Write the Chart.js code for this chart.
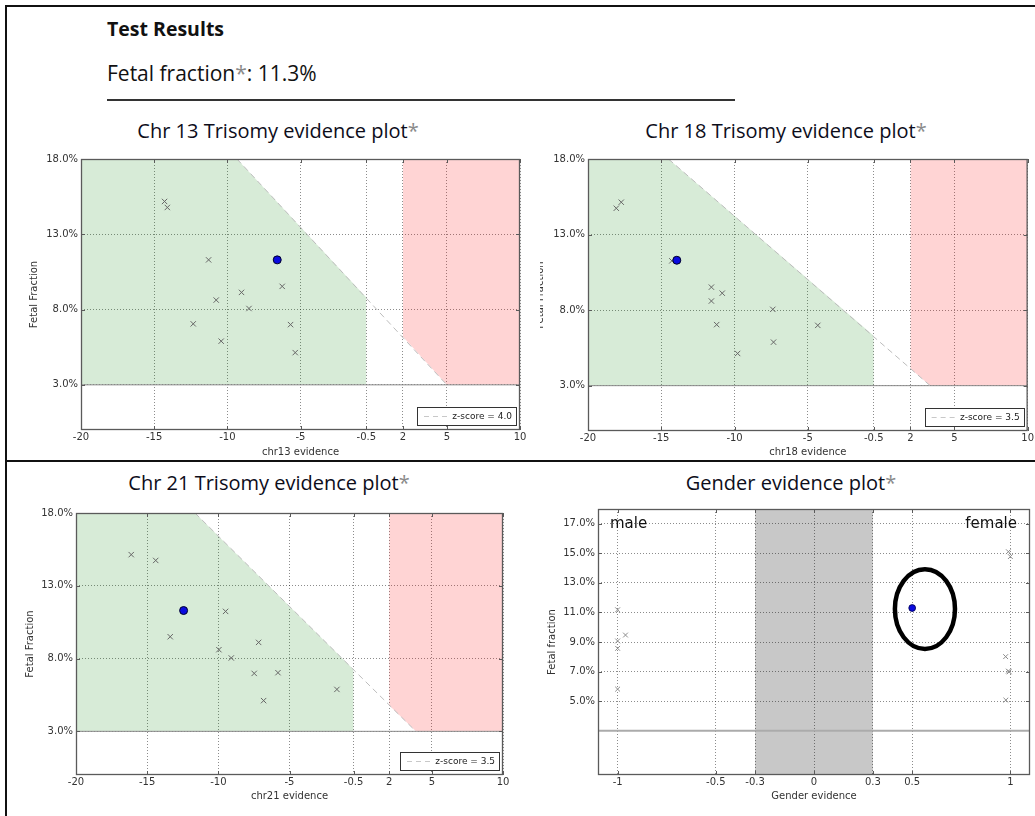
<!DOCTYPE html>
<html>
<head>
<meta charset="utf-8">
<script src="https://cdn.jsdelivr.net/npm/chart.js@4.4.1/dist/chart.umd.min.js"></script>
<style>
  html, body { margin: 0; padding: 0; background: #fff; }
  body { width: 1035px; height: 816px; position: relative; overflow: hidden; font-family: "Open Sans", Lato, sans-serif; }
  .rule { position: absolute; background: #111; }
  .txt { position: absolute; white-space: nowrap; color: #111; }
  .ast { color: #8a8a8a; }
  .title { position: absolute; white-space: nowrap; font-size: 20px; color: #0d0d1a; transform: translateX(-50%); line-height: 1; }
  .wrap { position: absolute; overflow: hidden; }
  .wrap canvas { position: absolute; top: 0; }
</style>
</head>
<body>
<div class="rule" style="left:5px;top:5px;width:1030px;height:2px"></div>
<div class="rule" style="left:5px;top:5px;width:2px;height:811px"></div>
<div class="rule" style="left:5px;top:460px;width:1030px;height:2px"></div>
<div class="rule" style="left:107px;top:99px;width:628px;height:2px;background:#333"></div>

<div class="txt" style="left:107px;top:15px;font-size:19.5px;font-weight:bold;">Test Results</div>
<div class="txt" style="left:107px;top:59px;font-size:21px;">Fetal fraction<span class="ast">*</span>: 11.3%</div>

<div class="title" style="left:278px;top:121px">Chr 13 Trisomy evidence plot<span class="ast">*</span></div>
<div class="title" style="left:786px;top:121px">Chr 18 Trisomy evidence plot<span class="ast">*</span></div>
<div class="title" style="left:269px;top:473px">Chr 21 Trisomy evidence plot<span class="ast">*</span></div>
<div class="title" style="left:791px;top:473px">Gender evidence plot<span class="ast">*</span></div>

<div class="wrap" style="left:20px;top:150px;width:515px;height:310px"><canvas id="c13" width="515" height="310" style="left:0"></canvas></div>
<div class="wrap" style="left:540px;top:150px;width:495px;height:310px"><canvas id="c18" width="505" height="310" style="left:-10px"></canvas></div>
<div class="wrap" style="left:20px;top:500px;width:515px;height:305px"><canvas id="c21" width="515" height="305" style="left:0"></canvas></div>
<div class="wrap" style="left:540px;top:500px;width:495px;height:305px"><canvas id="cg" width="505" height="305" style="left:-10px"></canvas></div>

<script>
// ---------- data ----------
const evidenceTicks = [-20, -15, -10, -5, -0.5, 2, 5, 10];
const fractionTicks = [3, 8, 13, 18];
const genderTicks = [-1, -0.5, -0.3, 0, 0.3, 0.5, 1];
const genderFractionTicks = [5, 7, 9, 11, 13, 15, 17];

// chr13 (z-score = 4.0)
const chr13RefX = [-14.29, -14.10, -11.28, -10.76, -9.03, -8.52, -12.33, -10.42, -6.25, -5.68, -5.36];
const chr13RefY = [15.18, 14.78, 11.30, 8.63, 9.14, 8.07, 7.05, 5.90, 9.54, 7.00, 5.14];
const chr13Sample = [{x: -6.59, y: 11.3}];
const chr13ZLine = [{x: -9.34, y: 18}, {x: 5, y: 3}];
const chr13Green = [{x: -20, y: 18}, {x: -9.34, y: 18}, {x: -0.5, y: 8.8}];
const chr13Red = [{x: 2, y: 6.2}, {x: 5, y: 3}, {x: 10, y: 3}];

// chr18 (z-score = 3.5)
const chr18RefX = [-18.07, -17.73, -14.28, -11.58, -10.84, -11.58, -11.22, -9.79, -7.39, -7.34, -4.32];
const chr18RefY = [14.74, 15.14, 11.26, 9.52, 9.12, 8.60, 7.04, 5.13, 8.05, 5.88, 6.99];
const chr18Sample = [{x: -13.94, y: 11.3}];
const chr18ZLine = [{x: -14.51, y: 18}, {x: 3.35, y: 3}];
const chr18Green = [{x: -20, y: 18}, {x: -14.51, y: 18}, {x: -0.5, y: 6.3}];
const chr18Red = [{x: 2, y: 4.13}, {x: 3.35, y: 3}, {x: 10, y: 3}];

// chr21 (z-score = 3.5)
const chr21RefX = [-16.12, -14.40, -9.49, -13.38, -7.17, -9.96, -9.09, -7.48, -5.81, -6.82, -1.67];
const chr21RefY = [15.14, 14.74, 11.24, 9.50, 9.11, 8.61, 8.04, 6.98, 7.03, 5.11, 5.88];
const chr21Sample = [{x: -12.44, y: 11.3}];
const chr21ZLine = [{x: -11.64, y: 18}, {x: 3.88, y: 3}];
const chr21Green = [{x: -20, y: 18}, {x: -11.64, y: 18}, {x: -0.5, y: 7.25}];
const chr21Red = [{x: 2, y: 4.8}, {x: 3.88, y: 3}, {x: 10, y: 3}];

// gender
const maleX = [-1, -1, -1, -0.96, -1];
const maleY = [11.18, 9.07, 8.57, 9.47, 5.81];
const femaleX = [0.99, 1.0, 0.976, 0.994, 0.99, 0.977];
const femaleY = [15.11, 14.78, 8.01, 6.98, 7.03, 5.07];
const genderSample = [{x: 0.5, y: 11.3}];
const genderBand = [{x: -0.3, y: 18}, {x: 0.3, y: 18}];
const minFractionLine = [{x: -20, y: 3}, {x: 10, y: 3}];
const genderMinLine = [{x: -1.1, y: 3}, {x: 1.1, y: 3}];
const annotationEllipse = {x: 0.565, y: 11.23, rx: 0.153, ry: 2.7};

// ---------- helpers ----------
const zip = (xs, ys) => xs.map((x, i) => ({x, y: ys[i]}));
const tickFont = {family: 'DejaVu Sans', size: 10};
const GRID = {color: 'rgba(0,0,0,0.45)', lineWidth: 1, drawTicks: false};

function frame(chart) {
  const {ctx, chartArea: a, scales} = chart;
  ctx.save();
  ctx.strokeStyle = '#5a5a5a';
  ctx.lineWidth = 1.3;
  ctx.setLineDash([]);
  ctx.strokeRect(a.left + 0.5, a.top + 0.5, a.right - a.left - 1, a.bottom - a.top - 1);
  ctx.lineWidth = 1;
  ctx.beginPath();
  scales.x.ticks.forEach(t => {
    const px = Math.round(scales.x.getPixelForValue(t.value)) + 0.5;
    ctx.moveTo(px, a.bottom); ctx.lineTo(px, a.bottom - 4);
    ctx.moveTo(px, a.top); ctx.lineTo(px, a.top + 4);
  });
  scales.y.ticks.forEach(t => {
    const py = Math.round(scales.y.getPixelForValue(t.value)) + 0.5;
    ctx.moveTo(a.left, py); ctx.lineTo(a.left + 4, py);
    ctx.moveTo(a.right, py); ctx.lineTo(a.right - 4, py);
  });
  ctx.stroke();
  ctx.restore();
}

function legendBox(chart) {
  const ds = chart.data.datasets.find(d => d.legend);
  if (!ds) return;
  const {ctx, chartArea: a} = chart;
  const w = 99, h = 18;
  const x = a.right - 4 - w, y = a.bottom - 5 - h;
  ctx.save();
  ctx.fillStyle = '#fff';
  ctx.fillRect(x, y, w, h);
  ctx.strokeStyle = '#333';
  ctx.lineWidth = 1;
  ctx.strokeRect(Math.round(x) + 0.5, Math.round(y) + 0.5, w, h);
  ctx.strokeStyle = '#c8c8c8';
  ctx.setLineDash([5, 4]);
  ctx.beginPath();
  ctx.moveTo(x + 7, y + h / 2 + 0.5); ctx.lineTo(x + 30, y + h / 2 + 0.5);
  ctx.stroke();
  ctx.setLineDash([]);
  ctx.fillStyle = '#222';
  ctx.font = '9px "DejaVu Sans"';
  ctx.textAlign = 'right';
  ctx.textBaseline = 'middle';
  ctx.fillText(ds.label, x + w - 4, y + h / 2 + 0.5);
  ctx.restore();
}

const overlay = {
  id: 'overlay',
  afterDraw(chart) {
    frame(chart);
    legendBox(chart);
    const extra = chart.options.plugins.overlay;
    if (extra && extra.gender) {
      const {ctx, chartArea: a, scales} = chart;
      ctx.save();
      ctx.fillStyle = '#111';
      ctx.font = '15px "DejaVu Sans"';
      ctx.textBaseline = 'middle';
      const yy = scales.y.getPixelForValue(17);
      ctx.textAlign = 'left';
      ctx.fillText('male', a.left + 12, yy);
      ctx.textAlign = 'right';
      ctx.fillText('female', a.right - 13, yy);
      const e = annotationEllipse;
      const cx = scales.x.getPixelForValue(e.x), cy = scales.y.getPixelForValue(e.y);
      const rx = scales.x.getPixelForValue(e.x + e.rx) - cx;
      const ry = cy - scales.y.getPixelForValue(e.y + e.ry);
      ctx.strokeStyle = '#000';
      ctx.lineWidth = 4.5;
      ctx.beginPath();
      ctx.ellipse(cx, cy, rx, ry, 0, 0, Math.PI * 2);
      ctx.stroke();
      ctx.restore();
    }
  }
};

function makeScales(o) {
  return {
    x: {
      type: 'linear', min: o.xmin, max: o.xmax,
      afterBuildTicks: s => { s.ticks = o.xticks.map(v => ({value: v})); },
      afterFit: s => { s.height = o.xh; },
      ticks: {font: tickFont, color: '#333', padding: 1, autoSkip: false, maxRotation: 0,
              callback: v => String(v)},
      grid: Object.assign({borderDash: [1, 2]}, GRID),
      border: {display: false, dash: [1, 2]},
      title: {display: true, text: o.xtitle, font: tickFont, color: '#333', padding: {top: 0, bottom: o.xtp}}
    },
    y: {
      type: 'linear', min: 0, max: 18,
      afterBuildTicks: s => { s.ticks = o.yticks.map(v => ({value: v})); },
      afterFit: s => { s.width = o.yw; },
      ticks: {font: tickFont, color: '#333', padding: 3, autoSkip: false,
              callback: v => v.toFixed(1) + '%'},
      grid: GRID,
      border: {display: false, dash: [1, 2]},
      title: {display: true, text: o.ytitle, font: tickFont, color: '#333', padding: {top: o.ytp, bottom: 0}}
    }
  };
}

function trisomy(id, o) {
  const datasets = [
    {label: 'green', data: o.green, showLine: true, pointRadius: 0, borderWidth: 0,
     backgroundColor: 'rgba(0,128,0,0.155)', fill: {value: 3}, order: 10},
    {label: 'red', data: o.red, showLine: true, pointRadius: 0, borderWidth: 0,
     backgroundColor: 'rgba(255,0,0,0.17)', fill: {value: 18}, order: 10},
    {label: 'min', data: minFractionLine, showLine: true, pointRadius: 0, borderWidth: 1,
     borderColor: '#8a8a8a', fill: false, order: 8},
    {label: o.legend, legend: true, data: o.zline, showLine: true, pointRadius: 0, borderWidth: 1,
     borderColor: '#bdbdbd', borderDash: [6, 4], fill: false, order: 6},
    {label: 'reference', data: zip(o.rx, o.ry), showLine: false, pointStyle: 'crossRot',
     pointRadius: 3.8, borderColor: '#666', borderWidth: 1, order: 4},
    {label: 'sample', data: o.sample, showLine: false, pointStyle: 'circle', pointRadius: 4,
     backgroundColor: '#0a0ae0', borderColor: '#00002a', borderWidth: 1, order: 1}
  ];
  new Chart(document.getElementById(id), {
    type: 'line',
    data: {datasets},
    options: {
      responsive: false, animation: false, devicePixelRatio: 1,
      layout: {padding: {top: o.pt, right: o.pr, left: 0, bottom: 0}},
      plugins: {legend: {display: false}, tooltip: {enabled: false}},
      scales: makeScales(Object.assign({xmin: -20, xmax: 10, xticks: evidenceTicks, yticks: fractionTicks,
                                        ytitle: 'Fetal Fraction'}, o))
    },
    plugins: [overlay]
  });
}

trisomy('c13', {green: chr13Green, red: chr13Red, zline: chr13ZLine, rx: chr13RefX, ry: chr13RefY,
  sample: chr13Sample, legend: 'z-score = 4.0', xtitle: 'chr13 evidence',
  pt: 9, pr: 15, yw: 61, xh: 30, ytp: 8, xtp: 2});
trisomy('c18', {green: chr18Green, red: chr18Red, zline: chr18ZLine, rx: chr18RefX, ry: chr18RefY,
  sample: chr18Sample, legend: 'z-score = 3.5', xtitle: 'chr18 evidence',
  pt: 9, pr: 7, yw: 58, xh: 29, ytp: 4.5, xtp: 1.3});
trisomy('c21', {green: chr21Green, red: chr21Red, zline: chr21ZLine, rx: chr21RefX, ry: chr21RefY,
  sample: chr21Sample, legend: 'z-score = 3.5', xtitle: 'chr21 evidence',
  pt: 13, pr: 32, yw: 56, xh: 30, ytp: 4, xtp: 2.3});

new Chart(document.getElementById('cg'), {
  type: 'line',
  data: {datasets: [
    {label: 'band', data: genderBand, showLine: true, pointRadius: 0, borderWidth: 0,
     backgroundColor: 'rgba(0,0,0,0.215)', fill: {value: 0}, order: 10},
    {label: 'min', data: genderMinLine, showLine: true, pointRadius: 0, borderWidth: 2,
     borderColor: '#ababab', fill: false, order: 8},
    {label: 'male', data: zip(maleX, maleY), showLine: false, pointStyle: 'crossRot',
     pointRadius: 3.4, borderColor: '#8c8c8c', borderWidth: 1, order: 4},
    {label: 'female', data: zip(femaleX, femaleY), showLine: false, pointStyle: 'crossRot',
     pointRadius: 3.4, borderColor: '#8c8c8c', borderWidth: 1, order: 4},
    {label: 'sample', data: genderSample, showLine: false, pointStyle: 'circle', pointRadius: 3.4,
     backgroundColor: '#0a0ae0', borderColor: '#00004a', borderWidth: 0.8, order: 1}
  ]},
  options: {
    responsive: false, animation: false, devicePixelRatio: 1,
    layout: {padding: {top: 9, right: 3, left: 0, bottom: 0}},
    plugins: {legend: {display: false}, tooltip: {enabled: false}, overlay: {gender: true}},
    scales: makeScales({xmin: -1.1, xmax: 1.1, xticks: genderTicks, yticks: genderFractionTicks,
      xtitle: 'Gender evidence', ytitle: 'Fetal fraction', yw: 68, xh: 30, ytp: 16, xtp: 2.3})
  },
  plugins: [overlay]
});
</script>
</body>
</html>
